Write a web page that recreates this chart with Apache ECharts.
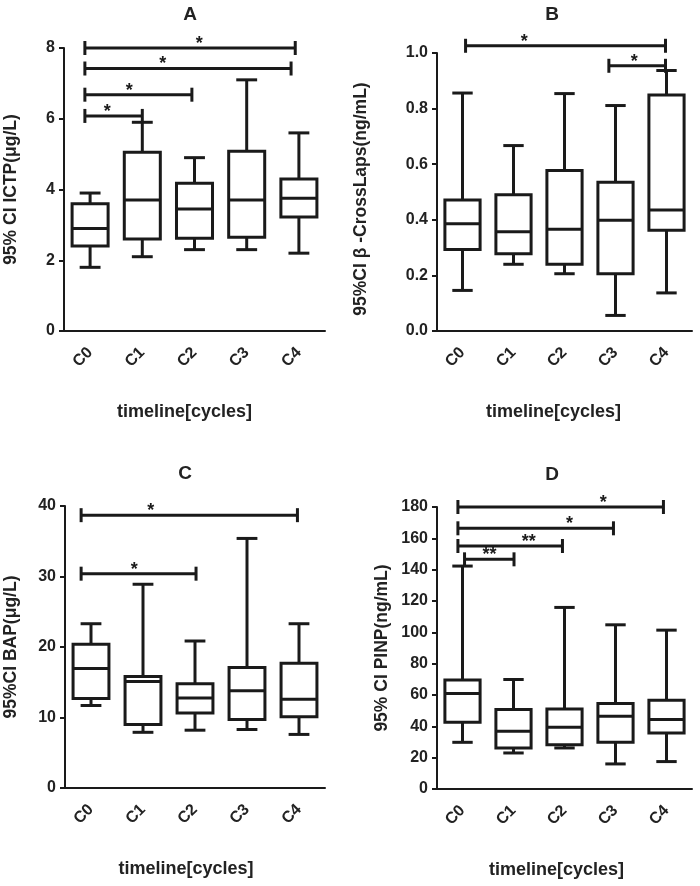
<!DOCTYPE html>
<html>
<head>
<meta charset="utf-8">
<script src="https://cdn.jsdelivr.net/npm/echarts@6/dist/echarts.min.js"></script>
<style>
  html, body { margin: 0; padding: 0; background: #fff; }
  #container { width: 700px; height: 886px; }
</style>
</head>
<body>
<div id="container"></div>
<script>
// categories shared by all four panels
var cycles = ['C0', 'C1', 'C2', 'C3', 'C4'];

// box stats per cycle: [low whisker, Q1, median, Q3, high whisker]
var ictpStats = [
  [1.8, 2.4, 2.9, 3.6, 3.9],
  [2.1, 2.6, 3.7, 5.05, 5.9],
  [2.3, 2.62, 3.45, 4.18, 4.9],
  [2.3, 2.65, 3.7, 5.08, 7.1],
  [2.2, 3.22, 3.75, 4.3, 5.6]
];
var crossLapsStats = [
  [0.146, 0.293, 0.386, 0.471, 0.856],
  [0.240, 0.278, 0.357, 0.490, 0.667],
  [0.206, 0.240, 0.366, 0.577, 0.854],
  [0.056, 0.206, 0.398, 0.535, 0.811],
  [0.137, 0.362, 0.435, 0.849, 0.937]
];
var bapStats = [
  [11.7, 12.7, 16.95, 20.4, 23.3],
  [7.9, 9.0, 15.1, 15.8, 28.9],
  [8.2, 10.65, 12.75, 14.8, 20.85],
  [8.3, 9.7, 13.8, 17.1, 35.4],
  [7.6, 10.1, 12.6, 17.7, 23.3]
];
var pinpStats = [
  [29.8, 42.6, 60.9, 69.5, 142.3],
  [23.0, 26.2, 36.9, 50.7, 69.9],
  [26.2, 28.3, 39.4, 51.1, 115.9],
  [16.0, 29.8, 46.4, 54.5, 104.8],
  [17.5, 35.8, 44.3, 56.7, 101.4]
];

// significance brackets: [from, to, level, star position, mark]
var ictpSig = [
  [-0.1, 3.93, 8.0, 2.09, '*'],
  [-0.1, 3.85, 7.42, 1.39, '*'],
  [-0.1, 1.95, 6.68, 0.75, '*'],
  [-0.1, 1.0, 6.08, 0.33, '*']
];
var crossLapsSig = [
  [0.06, 3.98, 1.026, 1.21, '*'],
  [2.87, 3.98, 0.954, 3.37, '*']
];
var bapSig = [
  [-0.19, 3.97, 38.7, 1.15, '*'],
  [-0.19, 2.02, 30.4, 0.83, '*']
];
var pinpSig = [
  [-0.09, 3.94, 180, 2.76, '*'],
  [-0.09, 2.96, 166.4, 2.10, '*'],
  [-0.09, 1.96, 155.1, 1.30, '**'],
  [0.04, 1.01, 146.6, 0.53, '**']
];

var panels = [
  { title: 'A', yName: '95% CI ICTP(μg/L)', stats: ictpStats, sig: ictpSig, max: 8, step: 2, digits: 0,
    grid: { left: 64, top: 48, width: 261, height: 283 }, titlePos: [185, 0], nameGap: 44, xShift: 20, yShift: 0 },
  { title: 'B', yName: '95%CI β -CrossLaps(ng/mL)', stats: crossLapsStats, sig: crossLapsSig, max: 1, step: 0.2, digits: 1,
    grid: { left: 437, top: 53, width: 255, height: 278 }, titlePos: [547, 0], nameGap: 67, xShift: 22, yShift: 14 },
  { title: 'C', yName: '95%CI BAP(μg/L)', stats: bapStats, sig: bapSig, max: 40, step: 10, digits: 0,
    grid: { left: 65, top: 506, width: 260, height: 282 }, titlePos: [180, 459], nameGap: 45, xShift: 18, yShift: 0 },
  { title: 'D', yName: '95% CI PINP(ng/mL)', stats: pinpStats, sig: pinpSig, max: 180, step: 20, digits: 0,
    grid: { left: 437, top: 507, width: 255, height: 282 }, titlePos: [547, 460], nameGap: 46, xShift: 16, yShift: 0 }
];

var ink = '#1a1a1a';
var font = "'Liberation Sans', Arial, sans-serif";

function renderBox(params, api) {
  var x = api.value(0);
  var band = api.size([1, 0])[0];
  var bw = band * 0.69, cw = band * 0.40;
  var lo = api.coord([x, api.value(1)]);
  var q1 = api.coord([x, api.value(2)]);
  var md = api.coord([x, api.value(3)]);
  var q3 = api.coord([x, api.value(4)]);
  var hi = api.coord([x, api.value(5)]);
  var cx = lo[0];
  var st = { stroke: ink, lineWidth: 3, fill: null };
  return {
    type: 'group',
    children: [
      { type: 'line', shape: { x1: cx, y1: q3[1], x2: cx, y2: hi[1] }, style: st },
      { type: 'line', shape: { x1: cx - cw / 2, y1: hi[1], x2: cx + cw / 2, y2: hi[1] }, style: st },
      { type: 'line', shape: { x1: cx, y1: q1[1], x2: cx, y2: lo[1] }, style: st },
      { type: 'line', shape: { x1: cx - cw / 2, y1: lo[1], x2: cx + cw / 2, y2: lo[1] }, style: st },
      { type: 'rect', shape: { x: cx - bw / 2, y: q3[1], width: bw, height: q1[1] - q3[1] },
        style: { stroke: ink, lineWidth: 3, fill: '#fff' } },
      { type: 'line', shape: { x1: cx - bw / 2, y1: md[1], x2: cx + bw / 2, y2: md[1] }, style: st }
    ]
  };
}

function renderSig(params, api) {
  var a = api.coord([api.value(0), api.value(2)]);
  var b = api.coord([api.value(1), api.value(2)]);
  var s = api.coord([api.value(3), api.value(2)]);
  var st = { stroke: ink, lineWidth: 3, fill: null };
  return {
    type: 'group',
    children: [
      { type: 'line', shape: { x1: a[0], y1: a[1], x2: b[0], y2: b[1] }, style: st },
      { type: 'line', shape: { x1: a[0], y1: a[1] - 7, x2: a[0], y2: a[1] + 7 }, style: st },
      { type: 'line', shape: { x1: b[0], y1: b[1] - 7, x2: b[0], y2: b[1] + 7 }, style: st },
      { type: 'text', x: s[0], y: a[1] - 4,
        style: { text: api.value(4), fill: ink, font: 'bold 18px ' + font, align: 'center', verticalAlign: 'middle' } }
    ]
  };
}

var option = {
  backgroundColor: '#fff',
  animation: false,
  title: [], grid: [], xAxis: [], yAxis: [], series: []
};

panels.forEach(function (p, i) {
  option.title.push({
    text: p.title, left: p.titlePos[0], top: p.titlePos[1], textAlign: 'center',
    textStyle: { fontFamily: font, fontWeight: 'bold', fontSize: 19, color: '#222' }
  });
  option.grid.push(p.grid);
  option.xAxis.push({
    type: 'category', gridIndex: i, data: cycles, boundaryGap: true,
    name: 'timeline[cycles]', nameLocation: 'middle', nameGap: 72,
    nameTextStyle: { fontFamily: font, fontWeight: 'bold', fontSize: 18, color: '#222', padding: [0, p.xShift, 0, 0] },
    axisLine: { onZero: false, lineStyle: { color: ink, width: 2 } },
    axisTick: { alignWithLabel: true, length: 5, lineStyle: { color: ink, width: 2 } },
    axisLabel: { rotate: 45, margin: 19, fontFamily: font, fontWeight: 'bold', fontSize: 16, color: '#222' },
    splitLine: { show: false }
  });
  option.xAxis.push({ type: 'value', gridIndex: i, min: -0.5, max: 4.5, show: false });
  option.yAxis.push({
    type: 'value', gridIndex: i, min: 0, max: p.max, interval: p.step,
    name: p.yName, nameLocation: 'middle', nameGap: p.nameGap, nameRotate: 90,
    nameTextStyle: { fontFamily: font, fontWeight: 'bold', fontSize: 17.5, color: '#222',
      padding: [0, p.yShift, 0, 0] },
    axisLine: { show: true, onZero: false, lineStyle: { color: ink, width: 2 } },
    axisTick: { show: true, length: 5, lineStyle: { color: ink, width: 2 } },
    axisLabel: { margin: 9, fontFamily: font, fontWeight: 'bold', fontSize: 16, color: '#222',
      formatter: function (v) { return v.toFixed(p.digits); } },
    splitLine: { show: false }
  });
  option.series.push({
    type: 'custom', name: p.title + ' box', xAxisIndex: i * 2, yAxisIndex: i,
    renderItem: renderBox, silent: true,
    data: p.stats.map(function (s, k) { return [k].concat(s); })
  });
  option.series.push({
    type: 'custom', name: p.title + ' sig', xAxisIndex: i * 2 + 1, yAxisIndex: i,
    renderItem: renderSig, silent: true, clip: false,
    data: p.sig
  });
});

var chart = echarts.init(document.getElementById('container'), null, { renderer: 'canvas' });
chart.setOption(option);
</script>
</body>
</html>
